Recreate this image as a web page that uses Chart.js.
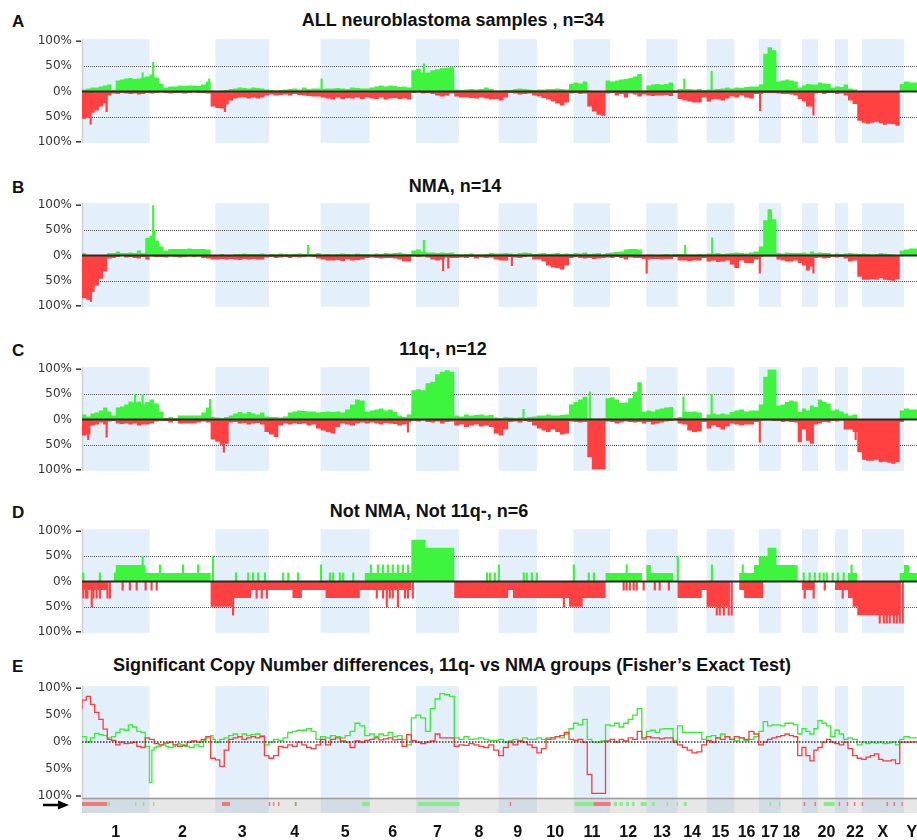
<!DOCTYPE html>
<html>
<head>
<meta charset="utf-8">
<script src="https://cdn.jsdelivr.net/npm/chart.js@4.4.0/dist/chart.umd.min.js"></script>
<style>
  html, body { margin: 0; padding: 0; background: #fff; }
  #page { position: relative; width: 917px; height: 840px; overflow: hidden; }
  canvas { position: absolute; left: 0; }
  .title, .letter { position: absolute; font-family: "Liberation Sans", Arial, sans-serif; font-weight: bold; font-size: 18px; line-height: 18px; color: #111; white-space: nowrap; }
  .title { transform: translateX(-50%); }
  .letter { left: 12px; font-size: 17px; }
</style>
</head>
<body>
<div id="page">
  <div class="letter" style="top:13px">A</div>
  <div class="title" style="top:11px;left:453px">ALL neuroblastoma samples , n=34</div>
  <canvas id="chartA" width="920" height="135" style="top:24px"></canvas>

  <div class="letter" style="top:179px">B</div>
  <div class="title" style="top:177px;left:455px">NMA, n=14</div>
  <canvas id="chartB" width="920" height="135" style="top:188px"></canvas>

  <div class="letter" style="top:342px">C</div>
  <div class="title" style="top:340px;left:443px">11q-, n=12</div>
  <canvas id="chartC" width="920" height="135" style="top:352px"></canvas>

  <div class="letter" style="top:504px">D</div>
  <div class="title" style="top:502px;left:429px">Not NMA, Not 11q-, n=6</div>
  <canvas id="chartD" width="920" height="135" style="top:514px"></canvas>

  <div class="letter" style="top:658px">E</div>
  <div class="title" style="top:656px;left:452px">Significant Copy Number differences, 11q- vs NMA groups (Fisher’s Exact Test)</div>
  <canvas id="chartE" width="920" height="170" style="top:671px"></canvas>
</div>
<script>
/* ── Genome layout (hg19, Mb) ─────────────────── */
const chromNames = ['1','2','3','4','5','6','7','8','9','10','11','12','13','14','15','16','17','18','19','20','21','22','X','Y'];
const chromTickLabels = ['1','2','3','4','5','6','7','8','9','10','11','12','13','14','15','16','17','18','','20','','22','X','Y'];
const chromLengths = [249.3,243.2,198.0,191.2,180.9,171.1,159.1,146.4,141.2,135.5,135.0,133.9,115.2,107.3,102.5,90.4,81.2,78.1,59.1,63.0,48.1,51.3,155.3,59.4];
const yTicks = [-100, -50, 0, 50, 100];

/* ── Frequencies per chromosome (% of samples), bins spread evenly along each chromosome ── */
const gainA = [
  [4,4,6,8,8,10,12,14,3,22,24,26,27,25,26,28],
  [30,34,28,15,8,10,10,12,11,12,12,11,14,20],
  [2,1,2,3,5,6,8,7,6,8,7,6],
  [4,3,2,3,4,5,6,4,8,5,6],
  [6,5,6,6,7,6,5,8,7,6],
  [6,8,10,12,10,12,11,9,10,8],
  [42,45,38,38,42,44,46,47,48],
  [4,3,4,5,4,5,8,5],
  [2,2,3,3,5,6,5,4],
  [3,4,4,5,5,6,5,4],
  [15,18,16,20,2,1,1,1],
  [22,20,22,24,25,27,30,35],
  [2,12,14,15,14,15,18],
  [2,5,5,5,4,5],
  [3,4,4,5,6,8],
  [6,8,7,9,10],
  [10,14,75,88,82],
  [20,22,24,22,20],
  [8,12,15,14],
  [14,18,16,15],
  [8,10,9],
  [14,6,4],
  [1,1,1,1,1,1,1,1,1,1],
  [15,20,18]
];
const lossA = [
  [50,54,52,42,38,30,24,8,4,5,3,4,5,4,6,5],
  [3,4,3,2,3,4,3,3,4,3,2,3,3,4],
  [30,33,34,26,18,14,12,12,14,12,14,12],
  [8,6,8,7,6,8,5,7,8,9,10],
  [10,12,14,16,12,15,13,14,12,15],
  [12,14,15,12,16,14,13,15,14,16],
  [3,2,4,3,5,8,10,8,4],
  [10,12,12,13,14,12,14,16],
  [15,18,12,3,4,6,5,4],
  [8,10,13,16,20,24,28,22],
  [4,3,5,4,30,40,46,48],
  [4,3,8,5,12,4,6,10],
  [6,8,9,8,8,7,9],
  [3,15,18,20,22,22],
  [12,20,15,16,18,14],
  [10,12,8,12,14],
  [5,5,3,3,3],
  [4,5,5,6,8],
  [15,20,30,30],
  [4,3,5,3],
  [3,5,4],
  [8,18,25],
  [58,62,64,62,60,63,66,64,65,68],
  [0,0,0]
];

const gainB = [
  [0,5,0,0,0,0,0,5,5,8,5,5,6,5,10,5],
  [35,40,30,18,10,13,13,13,13,14,13,13,13,12],
  [0,0,3,0,0,3,3,4,3,3,3,4],
  [0,3,2,4,3,2,3,4,3,3,3],
  [5,2,3,2,3,4,3,2,4,3],
  [3,2,4,3,5,4,5,6,4,3],
  [10,12,8,6,6,5,6,5,6],
  [3,2,3,4,2,2,3,5],
  [4,4,5,4,3,5,6,5],
  [3,4,5,3,4,5,3,4],
  [3,5,4,6,3,4,5,2],
  [5,6,7,8,12,13,13,12],
  [1,2,2,1,2,3,2],
  [3,3,3,2,2,3],
  [2,4,4,5,3,4],
  [5,6,5,4,6],
  [8,18,70,92,72],
  [5,4,6,5,5],
  [5,6,4,8],
  [5,6,5,5],
  [2,4,3],
  [4,5,4],
  [3,4,3,2,3,5,4,3,2,0],
  [10,12,14]
];
const lossB = [
  [80,85,88,72,60,46,32,6,5,3,0,4,3,5,6,3],
  [8,2,3,3,4,2,3,4,3,2,3,2,5,6],
  [8,8,7,8,7,8,9,7,8,7,8,8],
  [4,3,5,4,3,5,3,4,3,2,3],
  [6,8,10,10,9,11,8,10,9,8],
  [5,4,5,6,5,5,6,8,12,12],
  [2,3,2,4,8,10,8,4,5],
  [5,4,5,3,6,4,5,4],
  [8,10,10,3,4,5,3,2],
  [8,8,12,20,24,25,28,20],
  [5,3,5,6,5,7,6,5],
  [4,5,3,5,8,4,5,5],
  [7,8,7,7,8,7,7],
  [3,10,10,11,10,10],
  [5,12,10,13,12,10],
  [18,25,10,15,15],
  [8,3,2,2,2],
  [8,10,12,12,10],
  [15,20,30,22],
  [5,4,6,5],
  [3,4,3],
  [6,12,10],
  [42,48,48,47,48,45,48,49,50,47],
  [0,0,0]
];

const gainC = [
  [12,10,6,12,14,18,24,16,8,24,26,30,36,34,36,30],
  [35,40,32,16,3,5,3,8,8,8,8,8,14,24],
  [5,4,3,5,8,12,15,12,15,12,10,14],
  [6,5,5,4,6,14,16,18,17,16,16],
  [14,15,16,15,16,14,20,30,40,38],
  [15,18,20,22,18,20,15,8,5,10],
  [58,60,58,72,75,90,95,98,95],
  [8,6,10,8,9,10,8,9],
  [4,3,5,4,3,4,3,5],
  [6,8,8,10,8,8,9,10],
  [30,35,40,45,3,2,2,2],
  [42,44,40,33,34,42,55,74],
  [15,18,16,20,22,24,25],
  [3,5,16,15,16,14],
  [3,10,12,10,12,10],
  [15,18,20,16,18],
  [18,30,85,100,100],
  [28,30,35,38,36],
  [15,22,18,28],
  [25,40,35,32],
  [18,20,16],
  [12,8,10],
  [0,0,0,0,0,0,0,0,0,0],
  [18,22,20]
];
const lossC = [
  [22,32,30,12,10,6,10,4,3,8,9,8,10,8,12,10],
  [10,8,4,3,3,6,3,8,8,8,8,6,4,6],
  [40,44,50,48,6,5,8,7,10,8,7,10],
  [25,30,35,12,8,10,8,9,8,12,10],
  [18,22,25,28,15,8,10,12,8,6],
  [8,6,8,10,7,8,9,12,10,6],
  [3,4,2,5,6,4,8,5,4],
  [12,10,15,12,10,14,12,15],
  [28,32,20,5,4,6,3,5],
  [12,18,22,25,20,25,30,28],
  [4,5,6,5,75,100,100,100],
  [4,5,8,6,4,5,6,5],
  [8,5,10,8,6,4,3],
  [2,8,10,22,25,24],
  [5,18,12,15,20,14],
  [8,10,12,10,10],
  [5,3,2,2,3],
  [3,5,4,5,6],
  [45,20,42,48],
  [10,8,5,6],
  [3,4,2],
  [20,20,25],
  [65,80,82,82,80,85,84,86,88,85],
  [5,0,0]
];

const gainD = [
  [0,0,0,0,0,0,0,0,0,33,33,33,33,33,33,33],
  [17,17,17,17,17,17,17,17,17,17,17,17,17,17],
  [0,0,0,0,0,0,0,0,0,0,0,0],
  [0,0,0,0,0,0,0,0,0,0,0],
  [0,0,0,0,0,0,0,0,0,0],
  [17,17,17,17,17,17,17,17,17,17],
  [83,83,83,67,67,67,67,67,67],
  [0,0,0,0,0,0,0,0],
  [0,0,0,0,0,0,0,0],
  [0,0,0,0,0,0,0,0],
  [0,0,0,0,0,0,0,0],
  [17,17,17,17,17,17,17,17],
  [0,33,17,17,17,17,17],
  [0,0,0,0,0,0],
  [0,0,0,0,0,0],
  [0,0,17,17,17],
  [33,50,50,67,67],
  [33,33,33,33,33],
  [0,0,0,0],
  [0,0,0,0],
  [0,0,0],
  [0,17,17],
  [0,0,0,0,0,0,0,0,0,0],
  [17,33,17]
];
const lossD = [
  [17,17,17,17,17,17,17,0,0,0,0,0,0,0,0,0],
  [0,0,0,0,0,0,0,0,0,0,0,0,0,0],
  [50,50,50,50,50,33,33,33,33,17,17,17],
  [17,17,17,17,17,17,33,33,17,17,17],
  [17,17,33,33,33,33,33,33,33,17],
  [17,17,17,17,17,17,17,17,17,17],
  [0,0,0,0,0,0,0,0,0],
  [33,33,33,33,33,33,33,33],
  [33,33,33,17,33,33,33,33],
  [33,33,33,33,33,33,33,33],
  [50,50,50,33,33,33,33,33],
  [0,0,0,0,0,0,0,0],
  [0,0,0,0,0,0,0],
  [0,33,33,33,33,33],
  [17,50,50,50,50,50],
  [0,0,17,33,33],
  [33,33,0,0,0],
  [0,0,0,0,0],
  [0,17,17,17],
  [0,0,0,0],
  [0,17,17],
  [17,33,50],
  [67,67,67,67,67,67,67,67,67,67],
  [0,0,0]
];

/* ── isolated probe spikes [genome Mb, %] ─────── */
const spikeGainA = [[224,37],[263,58],[470,25],[885,25],[1263,55],[2225,25],[2326,40]];
const spikeLossA = [[32,65],[91,40],[528,40],[2505,38],[2702,47]];
const spikeGainB = [[263,100],[267,50],[835,20],[1263,30],[2228,20],[2328,35]];
const spikeLossB = [[33,92],[1334,30],[1353,25],[1588,20],[2086,35],[2504,35],[2702,35]];
const spikeGainC = [[196,50],[224,50],[473,40],[1631,20],[1876,55],[2222,45],[2326,50]];
const spikeLossC = [[23,40],[91,35],[524,65],[1204,25],[2504,45],[2858,40]];
const spikeGainD = [[5,17],[66,17],[122,17],[224,50],[288,33],[373,33],[429,33],[484,50],
  [569,17],[614,17],[632,17],[651,17],[676,17],[743,17],[762,17],[798,17],
  [883,33],[916,17],[928,17],[953,17],[965,17],[1002,17],
  [1067,33],[1093,33],[1112,33],[1130,33],[1148,33],[1167,33],[1185,33],[1204,33],[1230,33],
  [1496,17],[1507,17],[1525,17],[1540,33],[1632,17],[1643,17],[1662,17],[1680,17],[1817,33],
  [1872,17],[1891,17],[2012,33],[2201,50],[2327,33],[2441,33],
  [2666,17],[2688,17],[2707,17],[2725,17],[2740,17],[2751,17],[2773,17],[2792,17],[2814,17],[2843,33]];
const spikeLossD = [[5,33],[15,33],[20,33],[36,50],[42,33],[54,33],[66,33],[94,33],[103,33],
  [150,17],[177,17],[202,17],[235,17],[257,17],[276,17],
  [558,67],[645,33],[664,33],[683,33],
  [1089,33],[1112,33],[1126,50],[1137,33],[1148,33],[1167,50],[1193,33],[1204,33],[1222,33],
  [1780,50],[2001,17],[2012,17],[2024,17],[2038,17],[2049,17],[2075,17],[2116,17],[2134,17],[2168,17],
  [2345,67],[2356,67],[2371,67],[2389,67],[2400,67],[2670,33],[2703,33],[2744,17],[2810,33],
  [2947,83],[2962,83],[2973,83],[2984,83],[2999,83],[3010,83],[3021,83],[3032,83]];

/* ── Panel E: differences 11q- vs NMA (signed %) ── */
const diffGain = [
  [12,10,0,8,16,14,12,8,10,18,24,22,32,28,20,18],
  [-8,-75,-15,-10,-8,-8,-5,-5,-8,-10,-10,-8,-5,-3,-5,-5,-8,-8,-10,-10,-5,-5,-8,-8,3,8,10,12],
  [5,0,5,8,12,15,10,15,12,14,15,12],
  [-5,0,5,3,8,18,20,22,22,25,20],
  [5,10,8,12,10,8,12,20,35,30],
  [12,15,10,15,12,18,10,12,5,-5],
  [45,50,45,20,62,80,90,88,85],
  [8,5,10,5,6,8,5,3],
  [3,5,0,2,5,3,8,5],
  [5,8,5,8,5,10,8,15],
  [25,35,32,42,5,0,0,2],
  [32,30,35,28,35,42,50,62],
  [5,20,22,18,24,25,25],
  [3,30,18,18,18,18],
  [5,10,12,8,15,10],
  [5,2,8,3,5],
  [10,20,38,30,32],
  [32,30,35,35,32],
  [15,25,20,15],
  [25,40,35,30],
  [10,22,15],
  [5,8,5],
  [-5,0,-3,0,-2,0,-3,-2,0,-5],
  [5,10,8]
];
const diffLoss = [
  [62,78,85,70,55,42,24,5,3,-5,0,-3,-2,0,-8,-10],
  [8,5,-3,-5,-2,0,-5,-8,-6,0,2,0,5,10],
  [-30,-33,-45,-15,5,8,10,5,8,10,8,10],
  [-25,-30,-25,-8,-10,-5,-8,0,-5,-10,-12],
  [-5,5,-5,5,8,2,0,-10,2,0],
  [3,5,8,4,6,8,4,5,-8,14],
  [3,0,-3,0,2,15,8,8,8],
  [-8,-5,-6,-3,-5,-8,-10,-5],
  [-15,-25,-10,0,-5,2,0,-5],
  [-10,-20,-12,5,8,10,12,18],
  [5,3,5,0,-60,-95,-95,-95],
  [2,5,0,5,2,8,5,20],
  [8,10,8,8,6,8,8],
  [0,-5,-10,-15,-20,-18],
  [-5,3,0,8,5,10],
  [5,10,8,5,20],
  [15,-5,0,5,8],
  [10,12,15,12,10],
  [-25,-10,-25,-35],
  [-15,-10,0,5],
  [0,-3,-5],
  [0,-12,-25],
  [-30,-32,-28,-25,-22,-32,-35,-35,-33,-40],
  [0,0,0]
];
// significant regions (genome Mb, start/end)
const sigLoss = [[0,92],[517,547],[690,693],[705,708],[724,727],[786,789],[1580,1584],[1890,1953],[2666,2669],[2706,2709],[2795,2798],[2825,2828],[2851,2854],[2880,2883],[2972,2975],[2998,3001],[3027,3030]];
const sigGain = [[92,103],[196,199],[225,228],[262,265],[789,791],[1034,1063],[1241,1395],[1820,1890],[1964,1976],[1986,1998],[2009,2020],[2031,2042],[2064,2086],[2105,2116],[2160,2163],[2197,2200],[2223,2234],[2540,2543],[2574,2578],[2740,2781]];

/* ── helpers ─────────────────────────────────── */
const chromStarts = [];
chromLengths.reduce((acc, l) => { chromStarts.push(acc); return acc + l; }, 0);
const genomeEnd = chromStarts[chromStarts.length - 1] + chromLengths[chromLengths.length - 1];

function steps(perChrom, sign) {
  const pts = [];
  perChrom.forEach((vals, i) => {
    const w = chromLengths[i] / vals.length;
    vals.forEach((v, k) => pts.push({ x: chromStarts[i] + k * w, y: sign * v }));
  });
  pts.push({ x: genomeEnd, y: pts[pts.length - 1].y });
  return pts;
}
const spikes = (list, sign) => list.map(([x, v]) => ({ x, y: sign * v }));

const GREEN = '#3cf53c', RED = '#ff4141', SHADE = '#e3effb';

/* ── decoration plugin: chromosome bands, reference lines, track ── */
const genomeDecor = {
  id: 'genomeDecor',
  beforeDatasetsDraw(chart, args, opts) {
    const { ctx, chartArea: { top, bottom, left, right }, scales: { x, y } } = chart;
    const bandBottom = opts.track ? bottom + 17 : bottom + 1;
    ctx.save();
    ctx.fillStyle = SHADE;
    chromLengths.forEach((l, i) => {
      if (i % 2 !== 0 || i === 23) return;
      const x0 = x.getPixelForValue(chromStarts[i]), x1 = x.getPixelForValue(chromStarts[i] + l);
      ctx.fillRect(x0, top - 2, x1 - x0, bandBottom - top + 2);
    });
    if (opts.track) {
      ctx.fillStyle = 'rgba(170,170,170,0.28)';
      ctx.fillRect(left, bottom + 3, right - left, 14);
      ctx.strokeStyle = '#9a9a9a'; ctx.lineWidth = 1.5;
      ctx.beginPath(); ctx.moveTo(left, bottom + 2.5); ctx.lineTo(right, bottom + 2.5); ctx.stroke();
    }
    if (opts.halfLines) {
      ctx.strokeStyle = '#555'; ctx.lineWidth = 1; ctx.setLineDash([1, 1]);
      [50, -50].forEach(v => {
        const py = Math.round(y.getPixelForValue(v)) + 0.5;
        ctx.beginPath(); ctx.moveTo(left, py); ctx.lineTo(right, py); ctx.stroke();
      });
      ctx.setLineDash([]);
    }
    // axis line + end ticks
    ctx.strokeStyle = '#cfcfcf'; ctx.lineWidth = 1.5;
    ctx.beginPath(); ctx.moveTo(left + 0.5, top - 2); ctx.lineTo(left + 0.5, bottom + 1); ctx.stroke();
    ctx.strokeStyle = '#333'; ctx.lineWidth = 1.5;
    [100, -100].forEach(v => {
      const py = y.getPixelForValue(v);
      ctx.beginPath(); ctx.moveTo(left - 6, py); ctx.lineTo(left - 1, py); ctx.stroke();
    });
    ctx.restore();
  },
  afterDatasetsDraw(chart, args, opts) {
    const { ctx, chartArea: { bottom, left, right }, scales: { x, y } } = chart;
    ctx.save();
    const py = y.getPixelForValue(0);
    if (opts.dottedZero) {
      ctx.strokeStyle = '#333'; ctx.lineWidth = 1.5; ctx.setLineDash([1.5, 1.5]);
    } else {
      ctx.strokeStyle = '#2a2a2a'; ctx.lineWidth = 2;
    }
    ctx.beginPath(); ctx.moveTo(left, py); ctx.lineTo(right, py); ctx.stroke();
    ctx.setLineDash([]);
    if (opts.track) {
      const mark = (list, color) => {
        ctx.fillStyle = color;
        list.forEach(([s, e]) => {
          const x0 = x.getPixelForValue(s), x1 = x.getPixelForValue(e);
          ctx.fillRect(x0, bottom + 6, Math.max(x1 - x0, 1.5), 4);
        });
      };
      mark(sigGain, '#86ee86');
      mark(sigLoss, '#f07a7a');
      // arrow
      const ay = bottom + 9;
      ctx.strokeStyle = '#000'; ctx.fillStyle = '#000'; ctx.lineWidth = 2.5;
      ctx.beginPath(); ctx.moveTo(43, ay); ctx.lineTo(60, ay); ctx.stroke();
      ctx.beginPath(); ctx.moveTo(58, ay - 4.5); ctx.lineTo(69, ay); ctx.lineTo(58, ay + 4.5); ctx.closePath(); ctx.fill();
    }
    ctx.restore();
  }
};

function yScale() {
  return {
    min: -100, max: 100,
    afterBuildTicks: s => { s.ticks = yTicks.map(v => ({ value: v })); },
    afterFit: s => { s.width = 82; },
    ticks: { callback: v => Math.abs(v) + '%', color: '#333', padding: 10, font: { family: 'DejaVu Sans', size: 12 } },
    grid: { display: false, drawTicks: false },
    border: { display: false }
  };
}

function freqChart(id, gain, loss, sGain, sLoss) {
  const spikeSet = (data, color) => ({ type: 'bar', data, backgroundColor: color, barThickness: 1.5, grouped: false, borderWidth: 0 });
  return new Chart(document.getElementById(id), {
    type: 'line',
    data: {
      datasets: [
        { data: steps(gain, 1), stepped: 'after', fill: 'origin', backgroundColor: GREEN, borderWidth: 0, pointRadius: 0 },
        { data: steps(loss, -1), stepped: 'after', fill: 'origin', backgroundColor: RED, borderWidth: 0, pointRadius: 0 },
        spikeSet(spikes(sGain, 1), GREEN),
        spikeSet(spikes(sLoss, -1), RED)
      ]
    },
    options: {
      responsive: false, animation: false,
      layout: { autoPadding: false, padding: { top: 10, bottom: 10, left: 0, right: 0 } },
      plugins: { legend: { display: false }, tooltip: { enabled: false }, genomeDecor: { halfLines: true } },
      scales: {
        x: { type: 'linear', min: 0, max: genomeEnd, offset: false, display: false },
        y: yScale()
      }
    },
    plugins: [genomeDecor]
  });
}

freqChart('chartA', gainA, lossA, spikeGainA, spikeLossA);
freqChart('chartB', gainB, lossB, spikeGainB, spikeLossB);
freqChart('chartC', gainC, lossC, spikeGainC, spikeLossC);
freqChart('chartD', gainD, lossD, spikeGainD, spikeLossD);

/* ── Panel E ─────────────────────────────────── */
const tickMids = chromLengths.map((l, i) => chromStarts[i] + l / 2);
new Chart(document.getElementById('chartE'), {
  type: 'line',
  data: {
    datasets: [
      { data: steps(diffLoss, 1), stepped: 'after', fill: false, borderColor: '#ff3a3a', borderWidth: 1.3, pointRadius: 0 },
      { data: steps(diffGain, 1), stepped: 'after', fill: false, borderColor: '#33ee33', borderWidth: 1.3, pointRadius: 0 }
    ]
  },
  options: {
    responsive: false, animation: false,
    layout: { autoPadding: false, padding: { top: 10, bottom: 0, left: 0, right: 0 } },
    plugins: { legend: { display: false }, tooltip: { enabled: false }, genomeDecor: { dottedZero: true, track: true } },
    scales: {
      x: {
        type: 'linear', min: 0, max: genomeEnd,
        afterBuildTicks: s => { s.ticks = tickMids.map(v => ({ value: v })); },
        afterFit: s => { s.height = 45; s.paddingLeft = 0; s.paddingRight = 0; },
        ticks: { autoSkip: false, maxRotation: 0, padding: 27, color: '#111',
                 callback: (v, i) => chromTickLabels[i],
                 font: { family: 'Liberation Sans', size: 16, weight: 'bold' } },
        grid: { display: false, drawTicks: false },
        border: { display: false }
      },
      y: yScale()
    }
  },
  plugins: [genomeDecor]
});
</script>
</body>
</html>
